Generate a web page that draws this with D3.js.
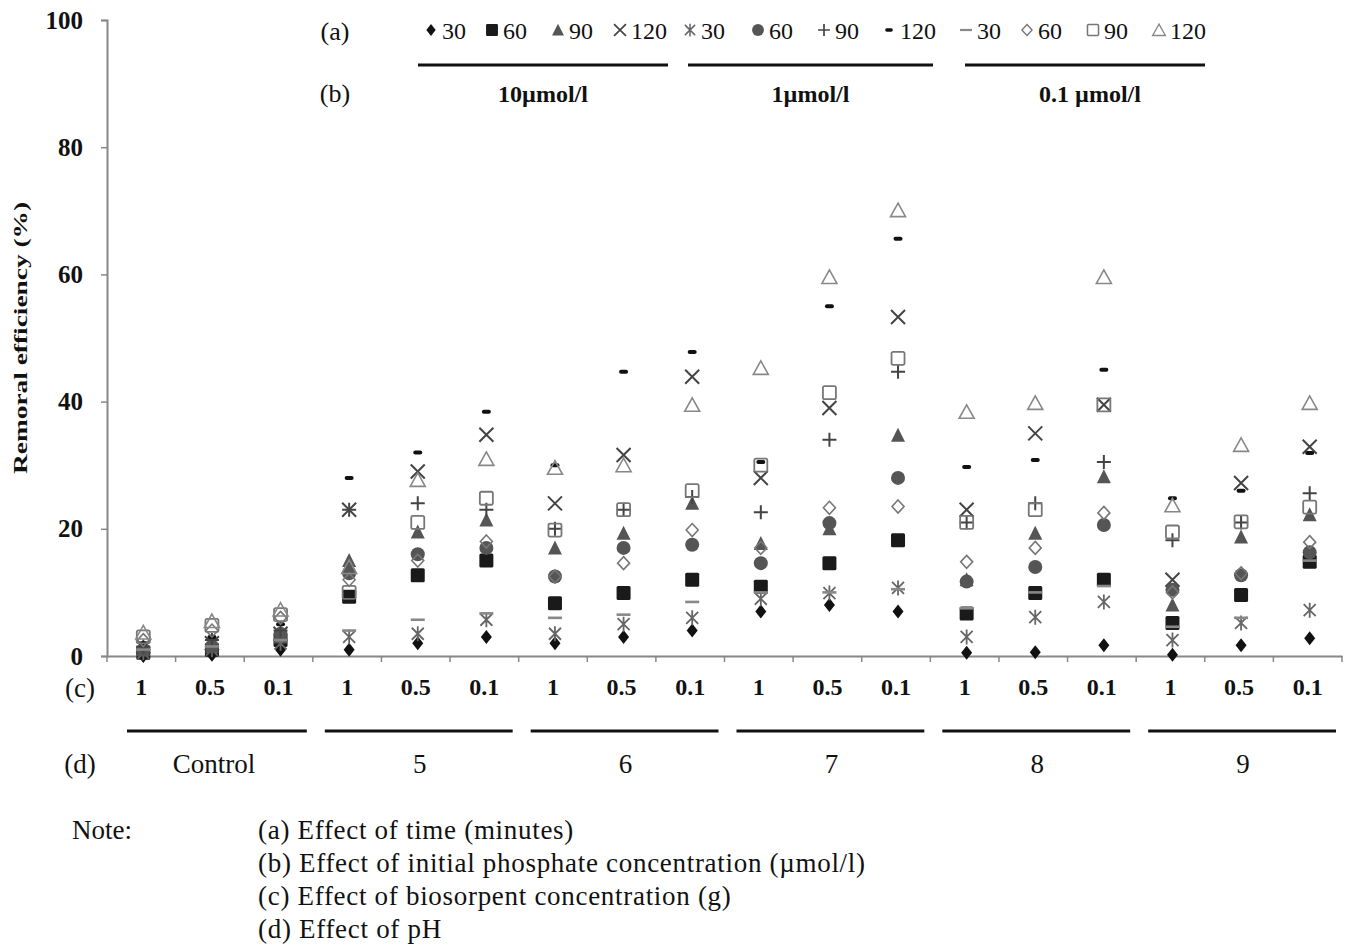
<!DOCTYPE html>
<html>
<head>
<meta charset="utf-8">
<script src="https://cdn.jsdelivr.net/npm/d3@7"></script>
<style>
  body { margin: 0; background: #fff; }
  svg text { font-family: "Liberation Serif", "Times New Roman", serif; fill: #111; }
</style>
</head>
<body>
<div id="chart"></div>
<script>
// categories: pH groups x biosorbent concentration (g)
const phGroups = ["Control", "5", "6", "7", "8", "9"];
const biosorbent = ["1", "0.5", "0.1"];
const concLabels = ["10µmol/l", "1µmol/l", "0.1 µmol/l"];
const timeLabels = ["30", "60", "90", "120"];
const yTicks = [0, 20, 40, 60, 80, 100];

// removal efficiency (%) per series, 18 points each (6 pH x 3 biosorbent)
const c10_t30  = [0, 0.2, 1, 1, 2, 3, 2, 3, 4, 7, 8, 7, 0.5, 0.6, 1.7, 0.2, 1.7, 2.8];
const c10_t60  = [0.5, 1, 2.5, 9.3, 12.7, 15, 8.3, 9.9, 12, 10.9, 14.6, 18.2, 6.7, 9.9, 12, 5.2, 9.6, 14.8];
const c10_t90  = [1, 1.5, 3, 15, 19.5, 21.4, 17, 19.3, 24, 17.7, 20, 34.7, 12, 19.3, 28.2, 8, 18.7, 22.2];
const c10_t120 = [1.5, 2, 3.5, 23, 29, 34.8, 24, 31.6, 43.9, 28, 39, 53.3, 23, 35, 39.5, 12, 27.2, 32.9];
const c1_t30   = [0.5, 1, 2, 3, 3.5, 5.7, 3.5, 5, 6, 9, 9.9, 10.7, 3, 6.1, 8.5, 2.5, 5.2, 7.2];
const c1_t60   = [1, 1.5, 3.5, 13, 16, 17, 12.5, 17, 17.5, 14.6, 20.9, 28, 11.7, 14, 20.6, 10.4, 12.7, 16.3];
const c1_t90   = [1.5, 2.5, 4, 23, 24, 23, 20, 23, 25, 22.6, 34, 44.7, 21, 24, 30.5, 18.2, 21, 25.6];
const c1_t120  = [2, 3, 5, 28, 32, 38.4, 30, 44.7, 47.8, 30.5, 55, 65.6, 29.7, 30.8, 45, 24.8, 26, 31.9];
const c01_t30  = [1, 1.5, 2.5, 4, 5.7, 6.7, 6, 6.5, 8.5, 10, 10, 10.5, 7.5, 10, 11, 4.6, 6, 15];
const c01_t60  = [2.5, 4, 6, 12, 15, 18, 12.5, 14.6, 19.8, 17, 23.3, 23.5, 14.8, 17, 22.5, 10, 13, 17.9];
const c01_t90  = [3, 4.8, 6.5, 10, 21, 24.8, 19.8, 23, 26, 30, 41.4, 46.8, 21, 23, 39.5, 19.5, 21.1, 23.4];
const c01_t120 = [3.7, 5.5, 7.3, 14, 27.7, 31, 29.6, 30, 39.5, 45.3, 59.6, 70.1, 38.4, 39.8, 59.6, 23.7, 33.2, 39.8];

const seriesValues = [c10_t30, c10_t60, c10_t90, c10_t120, c1_t30, c1_t60, c1_t90, c1_t120,
                      c01_t30, c01_t60, c01_t90, c01_t120];
// marker look for each series (Excel-like)
const markers = ["diamond", "square", "triangle", "cross", "star", "circle", "plus", "bar",
                 "dash", "odiamond", "osquare", "otriangle"];

const width = 1353, height = 951;
const margin = { left: 107, right: 11, top: 20, bottom: 295 };

const svg = d3.select("#chart").append("svg")
    .attr("width", width).attr("height", height);

const cats = [];
phGroups.forEach(p => biosorbent.forEach(b => cats.push(p + "|" + b)));

const x = d3.scaleBand().domain(cats).range([margin.left, width - margin.right]);
const y = d3.scaleLinear().domain([0, 100]).range([height - margin.bottom, margin.top]);

// draw a marker centered at 0,0
function drawMarker(g, type) {
    const dark = "#111", mid = "#555", light = "#888";
    switch (type) {
        case "diamond":
            g.append("path").attr("d", "M0,-7L5.5,0L0,7L-5.5,0Z").attr("fill", dark); break;
        case "square":
            g.append("rect").attr("x", -7).attr("y", -7).attr("width", 14).attr("height", 14)
                .attr("rx", 1.5).attr("fill", "#1a1a1a"); break;
        case "triangle":
            g.append("path").attr("d", "M0,-7.5L7,6.5L-7,6.5Z").attr("fill", mid); break;
        case "cross":
            g.append("path").attr("d", "M-7,-7L7,7M-7,7L7,-7").attr("stroke", "#444")
                .attr("stroke-width", 2).attr("fill", "none"); break;
        case "star":
            g.append("path").attr("d", "M-6,-6L6,6M-6,6L6,-6M0,-7.5L0,7.5").attr("stroke", "#666")
                .attr("stroke-width", 1.8).attr("fill", "none"); break;
        case "circle":
            g.append("circle").attr("r", 7).attr("fill", mid); break;
        case "plus":
            g.append("path").attr("d", "M-7,0L7,0M0,-7L0,7").attr("stroke", "#444")
                .attr("stroke-width", 2).attr("fill", "none"); break;
        case "bar":
            g.append("rect").attr("x", -4.5).attr("y", -2).attr("width", 9).attr("height", 4)
                .attr("rx", 2).attr("fill", dark); break;
        case "dash":
            g.append("rect").attr("x", -7).attr("y", -1.3).attr("width", 14).attr("height", 2.6)
                .attr("fill", light); break;
        case "odiamond":
            g.append("path").attr("d", "M0,-6.5L6,0L0,6.5L-6,0Z").attr("stroke", "#777")
                .attr("stroke-width", 1.6).attr("fill", "none"); break;
        case "osquare":
            g.append("rect").attr("x", -6.5).attr("y", -6.5).attr("width", 13).attr("height", 13)
                .attr("rx", 1.5).attr("stroke", "#777").attr("stroke-width", 1.8).attr("fill", "none"); break;
        case "otriangle":
            g.append("path").attr("d", "M0,-7L7.5,6.5L-7.5,6.5Z").attr("stroke", light)
                .attr("stroke-width", 1.6).attr("fill", "none"); break;
    }
}

// y axis
const yAxis = svg.append("g")
    .attr("transform", `translate(${margin.left},0)`)
    .call(d3.axisLeft(y).tickValues(yTicks).tickSize(6).tickPadding(18));
yAxis.select(".domain").attr("stroke", "#888").attr("stroke-width", 2);
yAxis.selectAll(".tick line").attr("stroke", "#888").attr("stroke-width", 1.5);
yAxis.selectAll(".tick text").attr("font-size", 25).attr("font-weight", "bold")
    .attr("font-family", "Liberation Serif").attr("fill", "#111");

svg.append("text")
    .attr("transform", `translate(27,${(y(0) + y(100)) / 2}) rotate(-90)`)
    .attr("text-anchor", "middle")
    .attr("font-size", 19).attr("font-weight", "bold")
    .attr("textLength", 272).attr("lengthAdjust", "spacingAndGlyphs")
    .text("Remoral efficiency (%)");

// x axis with ticks at band edges
const xAxis = svg.append("g")
    .attr("transform", `translate(0,${y(0)})`)
    .call(d3.axisBottom(x).tickSize(0).tickFormat(d => d.split("|")[1]).tickPadding(22));
xAxis.select(".domain").attr("stroke", "#888").attr("stroke-width", 2);
xAxis.selectAll(".tick text").attr("font-size", 24).attr("font-weight", "bold")
    .attr("font-family", "Liberation Serif").attr("fill", "#111");
xAxis.selectAll(".edge").data(cats.concat(["end"])).enter().append("line")
    .attr("x1", (d, i) => margin.left + i * x.bandwidth())
    .attr("x2", (d, i) => margin.left + i * x.bandwidth())
    .attr("y1", 0).attr("y2", 6).attr("stroke", "#888").attr("stroke-width", 1.5);

svg.append("text").attr("x", 80).attr("y", y(0) + 41).attr("text-anchor", "middle")
    .attr("font-size", 27).text("(c)");

// pH group rules and labels
const groupW = x.bandwidth() * 3;
const grp = svg.append("g").selectAll("g").data(phGroups).enter().append("g");
grp.append("line")
    .attr("x1", (d, i) => x(d + "|1") + (i === 0 ? 20 : 12))
    .attr("x2", (d, i) => x(d + "|1") + groupW - 6)
    .attr("y1", 731).attr("y2", 731).attr("stroke", "#111").attr("stroke-width", 3);
grp.append("text")
    .attr("x", d => x(d + "|0.5") + x.bandwidth() / 2 + 4)
    .attr("y", 773).attr("text-anchor", "middle").attr("font-size", 27)
    .text(d => d);
svg.append("text").attr("x", 80).attr("y", 773).attr("text-anchor", "middle")
    .attr("font-size", 27).text("(d)");

// points
const plot = svg.append("g");
seriesValues.forEach((vals, si) => {
    vals.forEach((v, ci) => {
        const g = plot.append("g")
            .attr("transform", `translate(${x(cats[ci]) + x.bandwidth() / 2 + 2},${y(v)})`);
        drawMarker(g, markers[si]);
    });
});

// legend (a) time, (b) initial phosphate concentration
svg.append("text").attr("x", 335).attr("y", 40).attr("text-anchor", "middle")
    .attr("font-size", 26).text("(a)");
svg.append("text").attr("x", 335).attr("y", 102).attr("text-anchor", "middle")
    .attr("font-size", 26).text("(b)");

const legendX = [431, 492, 558, 620, 690, 758, 824, 889, 966, 1027, 1093, 1159];
const leg = svg.append("g").selectAll("g").data(markers).enter().append("g")
    .attr("transform", (d, i) => `translate(${legendX[i]},30)`);
leg.each(function(d) {
    const g = d3.select(this).append("g").attr("transform", "scale(0.85)");
    drawMarker(g, d);
});
leg.append("text")
    .attr("x", 11).attr("y", 9)
    .attr("font-family", "Liberation Sans, Arial, sans-serif")
    .attr("font-size", 24)
    .text((d, i) => timeLabels[i % 4]);

const concSpans = [[418, 668], [688, 933], [965, 1205]];
concLabels.forEach((lab, i) => {
    svg.append("line").attr("x1", concSpans[i][0]).attr("x2", concSpans[i][1])
        .attr("y1", 65).attr("y2", 65).attr("stroke", "#111").attr("stroke-width", 3);
    svg.append("text").attr("x", (concSpans[i][0] + concSpans[i][1]) / 2 + (i === 2 ? 5 : 0))
        .attr("y", 102).attr("text-anchor", "middle").attr("font-size", 24)
        .attr("font-weight", "bold").text(lab);
});

// notes
const notes = ["(a) Effect of time (minutes)",
               "(b) Effect of initial phosphate concentration (µmol/l)",
               "(c) Effect of biosorpent concentration (g)",
               "(d) Effect of pH"];
svg.append("text").attr("x", 72).attr("y", 839).attr("font-size", 27).text("Note:");
svg.append("g").selectAll("text").data(notes).enter().append("text")
    .attr("x", 258).attr("y", (d, i) => 839 + i * 33)
    .attr("font-size", 27).attr("letter-spacing", 0.7).text(d => d);
</script>
</body>
</html>
